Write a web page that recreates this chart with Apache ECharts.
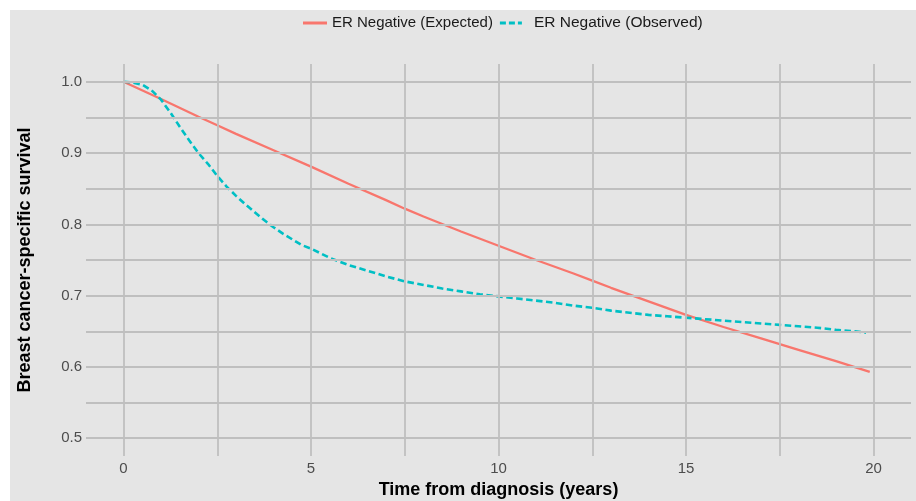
<!DOCTYPE html>
<html>
<head>
<meta charset="utf-8">
<script src="https://cdn.jsdelivr.net/npm/echarts@6/dist/echarts.min.js"></script>
<style>
  html, body { margin: 0; padding: 0; background: #ffffff; }
  #bg { position: absolute; left: 10px; top: 10px; width: 906px; height: 491px; background: #e5e5e5; }
  #c { position: absolute; left: 0; top: 0; width: 916px; height: 501px; }
</style>
</head>
<body>
<div id="bg"></div>
<div id="c"></div>
<script>
// ---- Data ----
const seriesNames = ['ER Negative (Expected)', 'ER Negative (Observed)'];

const expectedTime = [0, 1, 2, 2.5, 3, 4, 5, 6, 7, 7.5, 8, 9, 10, 11, 12, 12.5, 13, 14, 15, 16, 17, 17.5, 18, 19, 19.9];
const expectedSurv = [1.000, 0.976, 0.951, 0.939, 0.927, 0.904, 0.881, 0.857, 0.834, 0.822, 0.811, 0.790, 0.770, 0.750, 0.731, 0.721, 0.711, 0.692, 0.673, 0.656, 0.640, 0.632, 0.624, 0.608, 0.593];

const observedTime = [0, 0.25, 0.5, 0.75, 1.0, 1.25, 1.5, 1.75, 2.0, 2.25, 2.5, 2.75, 3.0, 3.25, 3.5, 3.75, 4.0, 4.25, 4.5, 4.75, 5.0, 5.5, 6, 6.5, 7, 7.5, 8, 8.5, 9, 9.5, 10, 10.5, 11, 11.5, 12, 12.5, 13, 13.5, 14, 14.5, 15, 15.5, 16, 16.5, 17, 17.5, 18, 18.5, 19, 19.5, 19.8];
const observedSurv = [1.000, 0.999, 0.996, 0.988, 0.975, 0.957, 0.937, 0.918, 0.900, 0.885, 0.868, 0.853, 0.840, 0.828, 0.817, 0.806, 0.796, 0.787, 0.779, 0.771, 0.766, 0.753, 0.743, 0.735, 0.727, 0.720, 0.715, 0.710, 0.706, 0.702, 0.699, 0.696, 0.693, 0.690, 0.686, 0.683, 0.679, 0.676, 0.673, 0.671, 0.669, 0.667, 0.665, 0.663, 0.661, 0.659, 0.657, 0.655, 0.652, 0.650, 0.648];

const xTickLabels = [0, 5, 10, 15, 20];
const yTickLabels = [0.5, 0.6, 0.7, 0.8, 0.9, 1.0];
const xGridValues = [0, 2.5, 5, 7.5, 10, 12.5, 15, 17.5, 20];
const yGridValues = [0.5, 0.55, 0.6, 0.65, 0.7, 0.75, 0.8, 0.85, 0.9, 0.95, 1.0];

const colors = ['#F8766D', '#00BFC4'];
const FONT = 'Liberation Sans, Arial, sans-serif';

function zip(a, b) { return a.map((v, i) => [v, b[i]]); }

const chart = echarts.init(document.getElementById('c'), null, { renderer: 'canvas' });

const gridLines = xGridValues.map(v => ({ xAxis: v })).concat(yGridValues.map(v => ({ yAxis: v })));

const option = {
  backgroundColor: 'transparent',
  animation: false,
  color: colors,
  legend: {
    left: 303,
    top: 15,
    padding: 0,
    itemWidth: 24,
    itemHeight: 3,
    itemGap: 7,
    textStyle: { fontFamily: FONT, fontSize: 15, color: '#1a1a1a' },
    data: [
      { name: seriesNames[0], icon: 'rect', itemStyle: { color: colors[0] } },
      { name: seriesNames[1], icon: 'path://M0,0h6v3h-6zM9,0h6v3h-6zM18,0h4v3h-4z', itemStyle: { color: colors[1] },
        textStyle: { fontFamily: FONT, fontSize: 15.5, color: '#1a1a1a', padding: [0, 0, 0, 6] } }
    ]
  },
  grid: { left: 86, top: 64, width: 825, height: 392, containLabel: false, outerBoundsMode: 'none' },
  xAxis: {
    type: 'value',
    min: -1,
    max: 21,
    name: 'Time from diagnosis (years)',
    nameLocation: 'middle',
    nameGap: 24,
    nameTextStyle: { fontFamily: FONT, fontSize: 18, fontWeight: 'bold', color: '#000' },
    axisLine: { show: false },
    axisTick: { show: false },
    splitLine: { show: false },
    axisLabel: {
      customValues: xTickLabels,
      margin: 5,
      fontFamily: FONT, fontSize: 15, color: '#4d4d4d'
    }
  },
  yAxis: {
    type: 'value',
    min: 0.475,
    max: 1.025,
    name: 'Breast cancer-specific survival',
    nameLocation: 'middle',
    nameGap: 52,
    nameRotate: 90,
    nameTextStyle: { fontFamily: FONT, fontSize: 18, fontWeight: 'bold', color: '#000' },
    axisLine: { show: false },
    axisTick: { show: false },
    splitLine: { show: false },
    axisLabel: {
      customValues: yTickLabels,
      margin: 4,
      formatter: v => v.toFixed(1),
      fontFamily: FONT, fontSize: 15, color: '#4d4d4d'
    }
  },
  series: [
    {
      type: 'line',
      name: '__grid',
      data: [],
      z: 1,
      silent: true,
      markLine: {
        silent: true,
        symbol: ['none', 'none'],
        label: { show: false },
        lineStyle: { color: '#bfbfbf', width: 1.8, type: 'solid' },
        emphasis: { disabled: true },
        data: gridLines
      }
    },
    {
      type: 'line',
      name: seriesNames[0],
      data: zip(expectedTime, expectedSurv),
      showSymbol: false,
      symbol: 'none',
      z: 3,
      lineStyle: { color: colors[0], width: 2.3, type: 'solid' },
      itemStyle: { color: colors[0] }
    },
    {
      type: 'line',
      name: seriesNames[1],
      data: zip(observedTime, observedSurv),
      showSymbol: false,
      symbol: 'none',
      z: 4,
      lineStyle: { color: colors[1], width: 2.6, type: [6.5, 3.5] },
      itemStyle: { color: colors[1] }
    }
  ]
};

chart.setOption(option);
</script>
</body>
</html>
